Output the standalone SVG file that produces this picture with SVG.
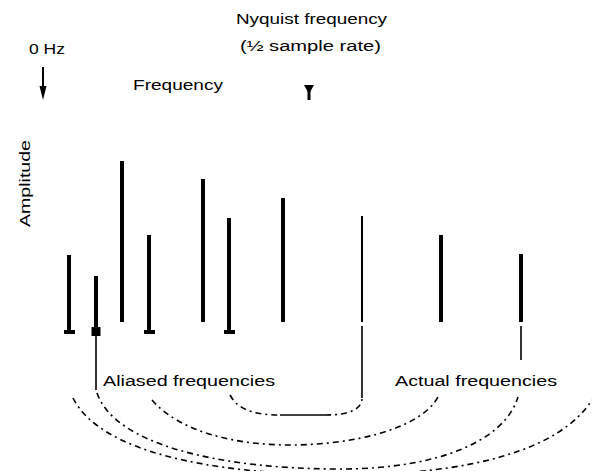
<svg xmlns="http://www.w3.org/2000/svg" width="592" height="471" viewBox="0 0 592 471">
<style>
  text { font-family: "Liberation Sans", Arial, sans-serif; font-size: 14px; fill: #000; }
  .bar { stroke: #000; stroke-width: 4; fill: none; }
  .thin { stroke: #000; stroke-width: 2; fill: none; }
  .conn { stroke: #000; stroke-width: 1.6; fill: none; }
  .arc { stroke: #000; stroke-width: 1.6; fill: none; stroke-dasharray: 6,4,2,4; }
  .foot { fill: #000; }
</style>

<g id="label-0hz">
  <text x="29" y="54" textLength="36" lengthAdjust="spacingAndGlyphs">0 Hz</text>
  <line x1="43" y1="67" x2="43" y2="90" stroke="#000" stroke-width="2"/>
  <path d="M39.5,86 L46.5,86 L43,100 Z" fill="#000"/>
</g>
<g id="label-frequency">
  <text x="133" y="90" textLength="90" lengthAdjust="spacingAndGlyphs">Frequency</text>
</g>
<g id="label-nyquist">
  <text x="236" y="24" textLength="151" lengthAdjust="spacingAndGlyphs">Nyquist frequency</text>
  <text x="240" y="51" textLength="141" lengthAdjust="spacingAndGlyphs">(½ sample rate)</text>
  <line x1="309" y1="88" x2="309" y2="100" stroke="#000" stroke-width="3"/>
  <path d="M304,85 L314,85 L309,94 Z" fill="#000"/>
</g>
<g id="label-amplitude">
  <text transform="translate(30,227) rotate(-90)" x="0" y="0" textLength="87" lengthAdjust="spacingAndGlyphs">Amplitude</text>
</g>

<g id="bars">
  <g id="bar-69"><line class="bar" x1="69" y1="255" x2="69" y2="333"/><rect class="foot" x="64" y="330" width="11" height="4"/></g>
  <g id="bar-96"><line class="bar" x1="96" y1="276" x2="96" y2="330"/><rect class="foot" x="91.5" y="327" width="9" height="9"/></g>
  <g id="bar-122"><line class="bar" x1="122" y1="161" x2="122" y2="322"/></g>
  <g id="bar-149"><line class="bar" x1="149" y1="235" x2="149" y2="333"/><rect class="foot" x="144" y="330" width="11" height="4"/></g>
  <g id="bar-203"><line class="bar" x1="203" y1="179" x2="203" y2="322"/></g>
  <g id="bar-229"><line class="bar" x1="229" y1="218" x2="229" y2="333"/><rect class="foot" x="224" y="330" width="11" height="4"/></g>
  <g id="bar-283"><line class="bar" x1="283" y1="198" x2="283" y2="322"/></g>
  <g id="bar-362"><line class="thin" x1="362" y1="216" x2="362" y2="322"/></g>
  <g id="bar-441"><line class="bar" x1="441" y1="235" x2="441" y2="322"/></g>
  <g id="bar-521"><line class="bar" x1="521" y1="254" x2="521" y2="322"/></g>
</g>

<g id="label-aliased">
  <text x="103" y="386" textLength="172" lengthAdjust="spacingAndGlyphs">Aliased frequencies</text>
</g>
<g id="label-actual">
  <text x="395" y="386" textLength="162" lengthAdjust="spacingAndGlyphs">Actual frequencies</text>
</g>

<g id="connectors">
  <line class="conn" x1="96" y1="336" x2="96" y2="390"/>
  <line class="conn" x1="362" y1="326" x2="362" y2="398"/>
  <line class="conn" x1="521" y1="326" x2="521" y2="360"/>
  <path class="arc" d="M230,395 C238,410 255,415 280,415" />
  <line class="conn" x1="280" y1="415" x2="325" y2="415"/>
  <path class="arc" d="M325,415 C348,415 362,410 362,398"/>
  <path class="arc" d="M152,400 C180,432 235,445 290,445 C350,445 420,430 438,397"/>
  <path class="arc" d="M97,393 C115,445 220,469 340,469 C440,469 505,440 518,397"/>
  <path class="arc" d="M73,398 C100,452 210,474 340,475 C470,475 560,450 592,400"/>
</g>
</svg>
